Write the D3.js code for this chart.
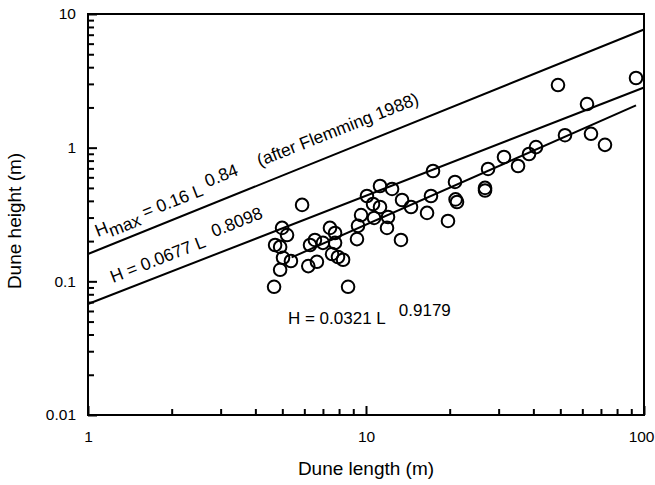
<!DOCTYPE html>
<html>
<head>
<meta charset="utf-8">
<script src="https://cdn.jsdelivr.net/npm/d3@7"></script>
<style>
  body { margin: 0; background: #fff; }
  text { font-family: "Liberation Sans", Arial, Helvetica, sans-serif; fill: #000; }
</style>
</head>
<body>
<div id="chart"></div>
<script>
// dune length (m) and height (m)
var duneLength = [4.67, 4.71, 4.91, 4.99, 5.20, 5.03, 4.91, 5.37, 5.89, 6.20,
                  6.29, 6.66, 6.55, 7.00, 7.42, 7.74, 7.74, 7.55, 7.93, 8.27,
                  8.62, 9.28, 9.36, 9.60, 10.08, 10.60, 10.69, 11.23, 11.23, 12.0,
                  11.9, 12.41, 13.36, 13.48, 14.52, 16.58, 17.13, 17.42, 19.72, 20.9,
                  21.25, 21.0, 26.8, 26.8, 27.48, 31.36, 35.23, 38.58, 40.88, 49.05,
                  51.97, 62.37, 64.46, 72.38, 93.6];
var duneHeight = [0.091, 0.187, 0.181, 0.251, 0.222, 0.150, 0.122, 0.142, 0.373, 0.130,
                  0.187, 0.140, 0.204, 0.194, 0.251, 0.230, 0.194, 0.160, 0.152, 0.145,
                  0.091, 0.207, 0.26, 0.313, 0.435, 0.379, 0.298, 0.517, 0.360, 0.303,
                  0.251, 0.491, 0.204, 0.406, 0.360, 0.325, 0.435, 0.669, 0.283, 0.554,
                  0.392, 0.41, 0.500, 0.478, 0.693, 0.851, 0.729, 0.897, 1.01, 2.94,
                  1.24, 2.12, 1.27, 1.05, 3.32];

// power law fits H = a * L^b
var fitA = [0.16, 0.0677, 0.0321];
var fitB = [0.84, 0.8098, 0.9179];
var fitFrom = [1, 1, 5.4];
var fitTo = [100, 100, 93.6];

var xTicks = [1, 10, 100];
var yTicks = [0.01, 0.1, 1, 10];
var xTickLabels = ["1", "10", "100"];
var yTickLabels = ["0.01", "0.1", "1", "10"];

var margin = {top: 14, right: 11, bottom: 70, left: 88},
    width = 655 - margin.left - margin.right,
    height = 485 - margin.top - margin.bottom;

var svg = d3.select("#chart")
  .append("svg")
  .attr("width", 655)
  .attr("height", 485)
  .append("g")
  .attr("transform", "translate(" + margin.left + "," + margin.top + ")");

var x = d3.scaleLog().domain([1, 100]).range([0, width]);
var y = d3.scaleLog().domain([0.01, 10]).range([height, 0]);

// minor tick values 2..9 in each decade
function minors(lo, hi) {
  var out = [];
  for (var d = lo; d < hi; d *= 10)
    for (var k = 2; k <= 9; k++) out.push(d * k);
  return out;
}

// minor ticks
svg.append("g")
  .attr("class", "axis")
  .call(d3.axisLeft(y).tickValues(minors(0.01, 10)).tickSize(-6).tickFormat(""));
svg.append("g")
  .attr("class", "axis")
  .attr("transform", "translate(0," + height + ")")
  .call(d3.axisBottom(x).tickValues(minors(1, 100)).tickSize(-6).tickFormat(""));

// major ticks with labels
svg.append("g")
  .attr("class", "axis")
  .call(d3.axisLeft(y).tickValues(yTicks).tickSize(-9).tickPadding(12)
    .tickFormat(function(d, i) { return yTickLabels[i]; }));
var xAxis = svg.append("g")
  .attr("class", "axis")
  .attr("transform", "translate(0," + height + ")")
  .call(d3.axisBottom(x).tickValues(xTicks).tickSize(-9).tickPadding(16)
    .tickFormat(function(d, i) { return xTickLabels[i]; }));

svg.selectAll(".axis .domain").remove();
svg.selectAll(".axis line").attr("stroke", "#000").attr("stroke-width", 2);
svg.selectAll(".axis text")
  .style("font-size", "15.5px")
  .style("font-family", "'Liberation Sans', Arial, sans-serif")
  .attr("fill", "#000");
// keep "100" inside the picture
xAxis.selectAll(".tick text").filter(function(d) { return d === 100; })
  .attr("text-anchor", "end")
  .attr("x", 10);

// frame
svg.append("rect")
  .attr("x", 0).attr("y", 0)
  .attr("width", width).attr("height", height)
  .attr("fill", "none")
  .attr("stroke", "#000")
  .attr("stroke-width", 2);

// fit lines
var line = d3.line()
  .x(function(d) { return x(d[0]); })
  .y(function(d) { return y(d[1]); });

fitA.forEach(function(a, i) {
  var pts = [fitFrom[i], fitTo[i]].map(function(L) { return [L, a * Math.pow(L, fitB[i])]; });
  svg.append("path")
    .attr("d", line(pts))
    .attr("fill", "none")
    .attr("stroke", "#000")
    .attr("stroke-width", 2);
});

// dots
svg.append("g")
  .selectAll("circle")
  .data(duneLength)
  .enter()
  .append("circle")
  .attr("cx", function(d) { return x(d); })
  .attr("cy", function(d, i) { return y(duneHeight[i]); })
  .attr("r", 6.3)
  .attr("fill", "none")
  .attr("stroke", "#000")
  .attr("stroke-width", 2);

// equation labels
var t1 = svg.append("text")
  .attr("transform", "translate(" + x(1.085) + "," + y(0.215) + ") rotate(-21.5)")
  .style("font-size", "17.5px");
t1.append("tspan").text("H");
t1.append("tspan").attr("dy", 5).text("max");
t1.append("tspan").attr("dy", -5).text(" = 0.16 L");
t1.append("tspan").attr("dx", 6).attr("dy", -6).text("0.84");
t1.append("tspan").attr("dx", 22).text("(after Flemming 1988)");

var t2 = svg.append("text")
  .attr("transform", "translate(" + x(1.23) + "," + y(0.0972) + ") rotate(-21.3)")
  .style("font-size", "17.5px");
t2.append("tspan").text("H = 0.0677 L");
t2.append("tspan").attr("dx", 10).attr("dy", -6).text("0.8098");

var t3 = svg.append("text")
  .attr("x", x(5.24)).attr("y", y(0.048))
  .style("font-size", "17px");
t3.append("tspan").text("H = 0.0321 L");
t3.append("tspan").attr("dx", 13).attr("dy", -7.5).text("0.9179");

// axis titles
svg.append("text")
  .attr("x", width / 2)
  .attr("y", height + 60)
  .attr("text-anchor", "middle")
  .style("font-size", "19px")
  .text("Dune length (m)");

svg.append("text")
  .attr("transform", "rotate(-90)")
  .attr("x", -207)
  .attr("y", -margin.left + 21)
  .attr("text-anchor", "middle")
  .style("font-size", "19px")
  .text("Dune height (m)");
</script>
</body>
</html>
